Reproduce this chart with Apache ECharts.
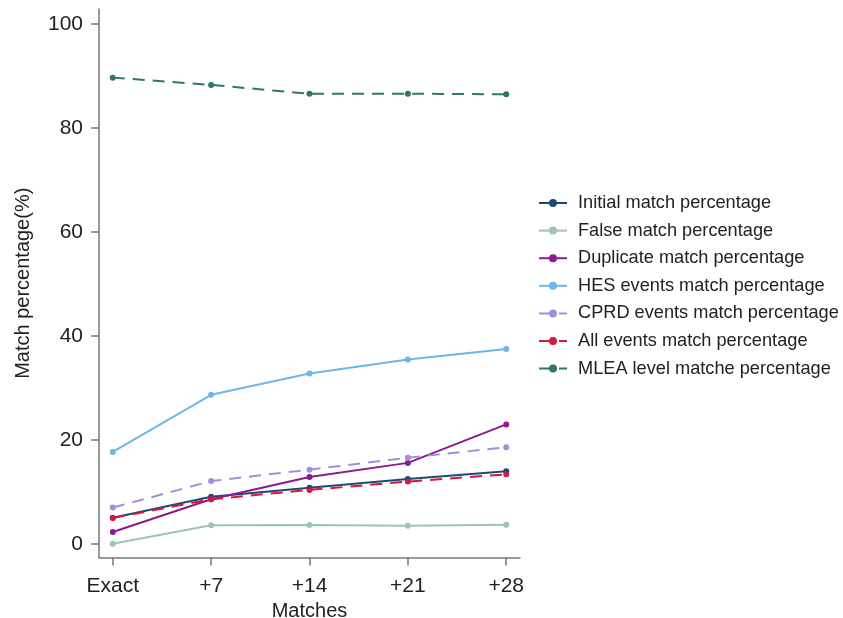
<!DOCTYPE html>
<html>
<head>
<meta charset="utf-8">
<script src="https://cdn.jsdelivr.net/npm/echarts@6/dist/echarts.min.js"></script>
<style>html,body{margin:0;padding:0;background:#fff}#c{width:843px;height:618px}</style>
</head>
<body>
<div id="c"></div>
<script>
const categories = ['Exact', '+7', '+14', '+21', '+28'];
const yTicks = [0, 20, 40, 60, 80, 100];
const initialMatch = [5.05, 9.1, 10.8, 12.5, 14.0];
const falseMatch = [0.05, 3.6, 3.65, 3.5, 3.7];
const duplicateMatch = [2.3, 8.6, 12.9, 15.6, 23.0];
const hesEvents = [17.7, 28.7, 32.8, 35.5, 37.5];
const cprdEvents = [7.0, 12.1, 14.3, 16.6, 18.6];
const allEvents = [5.0, 8.6, 10.4, 12.0, 13.4];
const mleaLevel = [89.7, 88.3, 86.6, 86.6, 86.5];

const seriesDefs = [
  ['Initial match percentage', initialMatch, '#1d4a74', 'solid'],
  ['False match percentage', falseMatch, '#9cc5b4', 'solid'],
  ['Duplicate match percentage', duplicateMatch, '#8e1a91', 'solid'],
  ['HES events match percentage', hesEvents, '#6cb7e6', 'solid'],
  ['CPRD events match percentage', cprdEvents, '#a08fdc', 'dashed'],
  ['All events match percentage', allEvents, '#d6173f', 'dashed'],
  ['MLEA level matche percentage', mleaLevel, '#2f7668', 'dashed']
];

const font = 'Liberation Sans, Arial, sans-serif';
const chart = echarts.init(document.getElementById('c'));
chart.setOption({
  animation: false,
  backgroundColor: '#fff',
  grid: { left: 99, right: 323, top: 9, bottom: 60.5, containLabel: false, outerBoundsMode: 'none' },
  xAxis: {
    type: 'value', min: -0.14, max: 4.14,
    name: 'Matches', nameLocation: 'middle', nameGap: 37,
    nameTextStyle: { fontFamily: font, fontSize: 20, color: '#222' },
    axisLine: { show: true, onZero: false, lineStyle: { color: '#777', width: 1.5 } },
    axisTick: { show: true, length: 8, customValues: [0, 1, 2, 3, 4], lineStyle: { color: '#777', width: 1.5 } },
    axisLabel: { customValues: [0, 1, 2, 3, 4], formatter: v => categories[Math.round(v)], fontFamily: font, fontSize: 21, color: '#222', margin: 18 },
    splitLine: { show: false }
  },
  yAxis: {
    type: 'value', min: -2.6, max: 102.9,
    name: 'Match percentage(%)', nameLocation: 'middle', nameGap: 66,
    nameTextStyle: { fontFamily: font, fontSize: 20, color: '#222' },
    axisLine: { show: true, onZero: false, lineStyle: { color: '#777', width: 1.5 } },
    axisTick: { show: true, length: 8, customValues: yTicks, lineStyle: { color: '#777', width: 1.5 } },
    axisLabel: { customValues: yTicks, fontFamily: font, fontSize: 21, color: '#222', margin: 16 },
    splitLine: { show: false }
  },
  legend: {
    orient: 'vertical', left: 533, top: 189,
    itemWidth: 28, itemHeight: 10, itemGap: 9.6,
    textStyle: { fontFamily: font, fontSize: 18.2, lineHeight: 18, color: '#222', padding: [0, 0, 0, 6] },
    data: seriesDefs.map(d => d[0])
  },
  series: seriesDefs.map(d => ({
    name: d[0], type: 'line',
    data: d[1].map((v, i) => [i, v]),
    symbol: 'circle', symbolSize: 6,
    itemStyle: { color: d[2] },
    lineStyle: { color: d[2], width: 2, type: d[3] === 'dashed' ? [12, 8] : 'solid' }
  }))
});
</script>
</body>
</html>
